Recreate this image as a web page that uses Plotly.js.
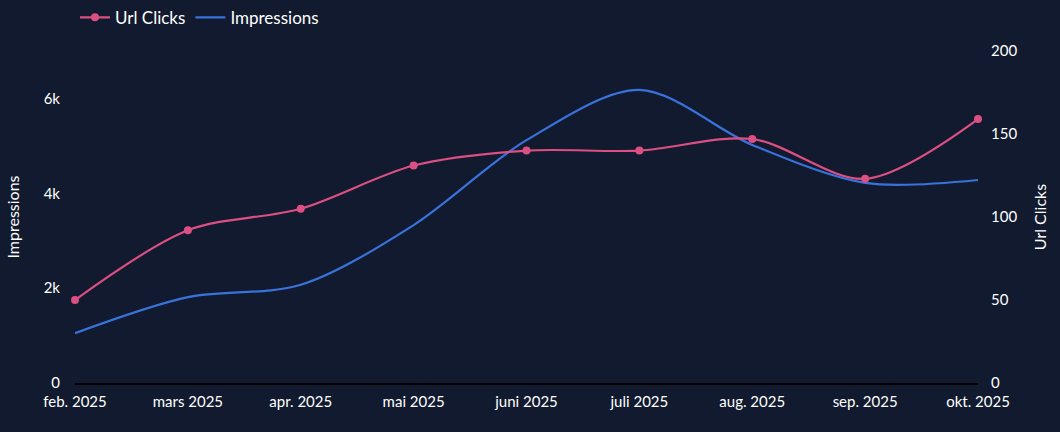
<!DOCTYPE html>
<html>
<head>
<meta charset="utf-8">
<script src="https://cdn.plot.ly/plotly-3.0.1.min.js"></script>
<style>html,body{margin:0;padding:0;background:#111a2e;}#chart{width:1060px;height:432px;}</style>
</head>
<body>
<div id="chart"></div>
<script>
const months = ["feb. 2025","mars 2025","apr. 2025","mai 2025","juni 2025","juli 2025","aug. 2025","sep. 2025","okt. 2025"];
const urlClicks = [50, 92, 105, 131, 140, 140, 147, 123, 159];
const impressions = [1050, 1810, 2070, 3330, 5120, 6180, 5020, 4220, 4280];
const leftTicks = [0, 2000, 4000, 6000];
const leftTickText = ["0","2k","4k","6k"];
const rightTicks = [0, 50, 100, 150, 200];

const font = "Lato, 'Open Sans', sans-serif";
const traces = [
  {x: months, y: urlClicks, name: "Url Clicks", type: "scatter", mode: "lines+markers", yaxis: "y2", cliponaxis: false,
   line: {color: "#dc4f82", width: 2.2, shape: "spline", smoothing: 0.9}, marker: {color: "#dc4f82", size: 8}},
  {x: months, y: impressions, name: "Impressions", type: "scatter", mode: "lines", yaxis: "y", cliponaxis: false,
   line: {color: "#3a72dc", width: 2.2, shape: "spline", smoothing: 0.9}}
];
const layout = {
  width: 1060, height: 432,
  paper_bgcolor: "#111a2e", plot_bgcolor: "#111a2e",
  margin: {l: 75, r: 82, t: 51, b: 49, autoexpand: false},
  font: {family: font, color: "#ffffff", size: 15},
  showlegend: true,
  legend: {orientation: "h", x: 0.0, xanchor: "left", y: 1.1, yanchor: "middle", font: {size: 17, color: "#ffffff"}, bgcolor: "rgba(0,0,0,0)", itemwidth: 30},
  xaxis: {type: "category", showgrid: false, zeroline: false, showline: true, linecolor: "#000000", linewidth: 1.5,
          ticks: "", tickfont: {size: 15, color: "#ffffff"}, range: [0, 8], fixedrange: true, ticklabelstandoff: 4},
  yaxis: {range: [0, 7000], tickvals: leftTicks, ticktext: leftTickText, showgrid: false, zeroline: false,
          title: {text: "Impressions", font: {size: 16, color: "#ffffff"}, standoff: 20},
          tickfont: {size: 15, color: "#ffffff"}, ticks: "", ticklabelstandoff: 14},
  yaxis2: {range: [0, 200], tickvals: rightTicks, overlaying: "y", side: "right", showgrid: false, zeroline: false,
           title: {text: "Url Clicks", font: {size: 16, color: "#ffffff"}, standoff: 18},
           tickfont: {size: 15, color: "#ffffff"}, ticks: "", ticklabelstandoff: 12}
};
Plotly.newPlot("chart", traces, layout, {displayModeBar: false, staticPlot: true});
</script>
</body>
</html>
